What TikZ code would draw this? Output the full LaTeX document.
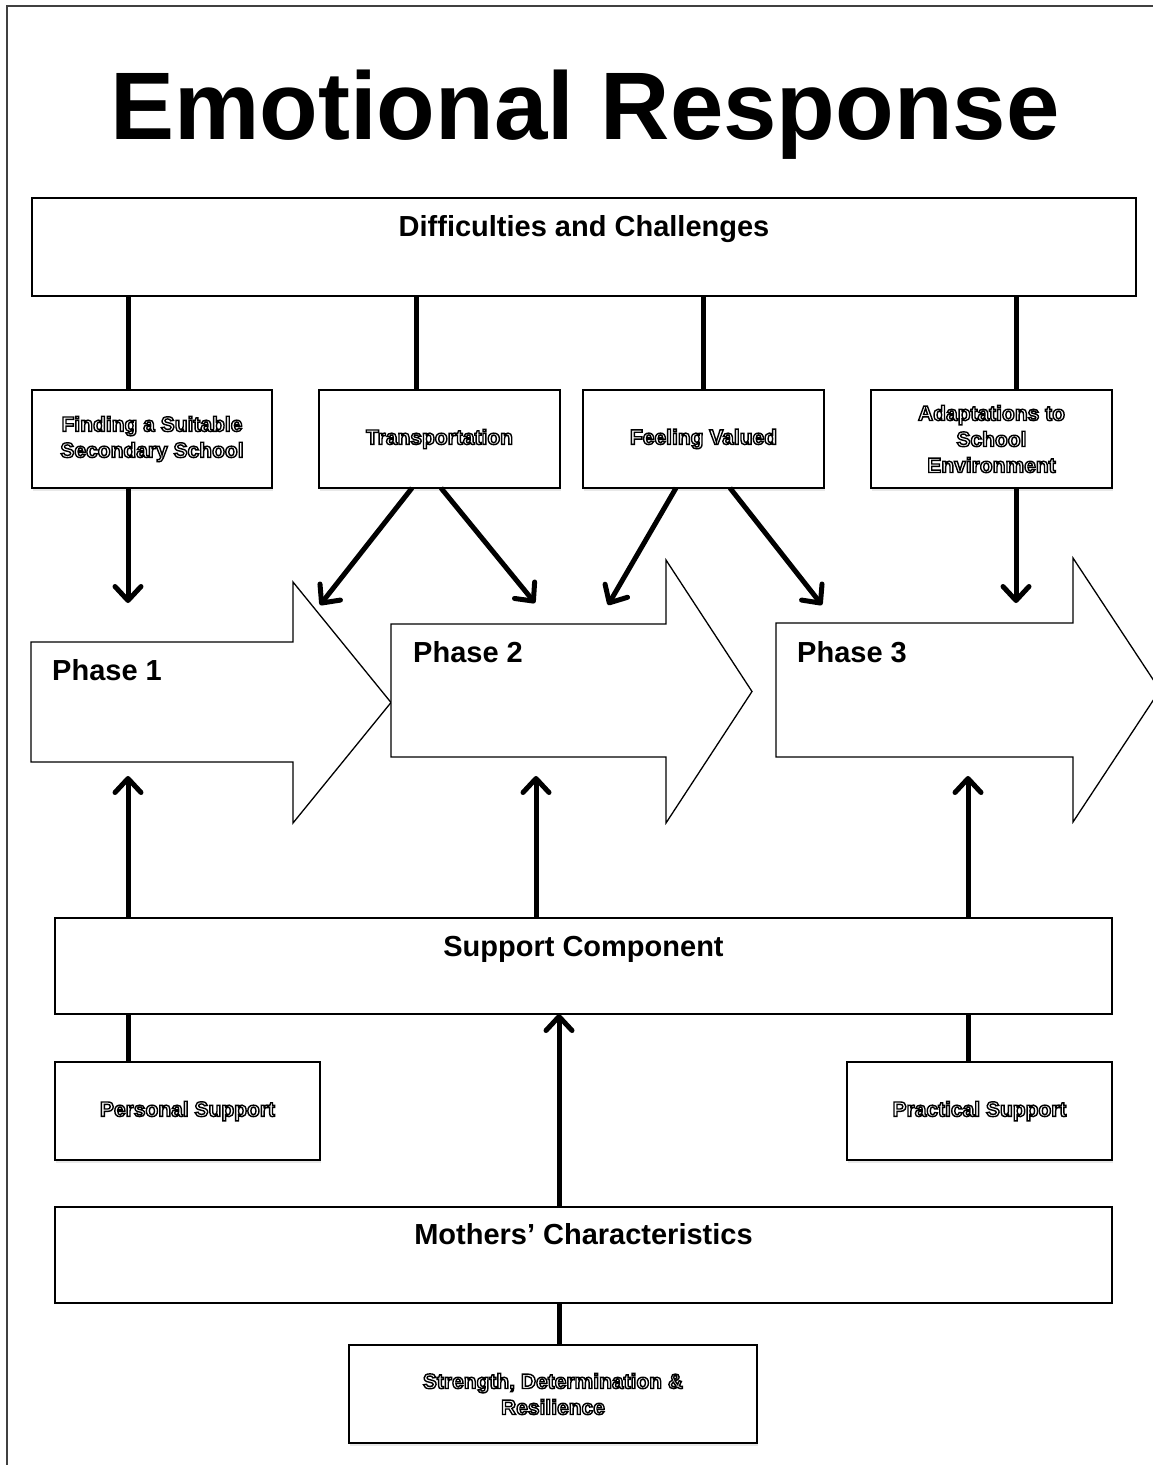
\documentclass[tikz,border=0pt]{standalone}
\usepackage{fontspec}
\setmainfont{Liberation Sans}
\usetikzlibrary{arrows.meta,shadows}

% outlined (hollow) lettering for the small boxes
\newcommand{\hollow}[1]{\special{pdf:literal direct 1 Tr 1.4 w}#1\special{pdf:literal direct 0 Tr}}

\tikzset{
  frame/.style={draw=black!75, line width=1.6pt},
  bar/.style={draw, line width=1.5pt, fill=white, inner sep=0pt, outer sep=0pt},
  sbox/.style={draw, line width=1.5pt, fill=white, inner sep=0pt, outer sep=0pt,
    minimum height=98pt, align=center, font=\fontsize{21}{26}\selectfont\bfseries,
    drop shadow={opacity=0.18, shadow xshift=1pt, shadow yshift=-3pt}},
  head/.style={inner sep=0pt, font=\fontsize{29}{34}\selectfont\bfseries},
  phase/.style={draw, line width=1.3pt, fill=white, line join=miter},
  link/.style={line width=5pt},
  flow/.style={link, -{Straight Barb[length=14pt, width=26pt, round]}}
}

\begin{document}
\begin{tikzpicture}[x=1pt,y=-1pt]
  \useasboundingbox (0,0) rectangle (1152,1465);
  \draw[frame] (7,6) rectangle (1185,1495);
  \node[inner sep=0pt, anchor=base, font=\fontsize{96}{110}\selectfont\bfseries] (title) at (585,139) {Emotional Response};

  % difficulties and challenges
  \node[bar, minimum width=1104pt, minimum height=98pt] (dc) at (584,247) {};
  \node[head, anchor=base] (dclab) at (584,236) {Difficulties and Challenges};
  \node[sbox, minimum width=240pt] (f1) at (152,439) {\hollow{Finding a Suitable\\Secondary School}};
  \node[sbox, minimum width=241pt] (f2) at (439.5,439) {\hollow{Transportation}};
  \node[sbox, minimum width=241pt] (f3) at (703.5,439) {\hollow{Feeling Valued}};
  \node[sbox, minimum width=241pt] (f4) at (991.5,439) {\hollow{Adaptations to\\School\\Environment}};
  \draw[link] ([xshift=-24pt]f1.north) -- ([xshift=-24pt]f1.north |- dc.south);
  \draw[link] ([xshift=-23.5pt]f2.north) -- ([xshift=-23.5pt]f2.north |- dc.south);
  \draw[link] (f3.north) -- (f3.north |- dc.south);
  \draw[link] ([xshift=24.5pt]f4.north) -- ([xshift=24.5pt]f4.north |- dc.south);

  % phases
  \foreach \l/\bt/\bb/\hx/\ht/\hb/\tx in {31/642/762/293/582/823/391,
      391/624/757/666/560/823/752, 776/623/757/1073/558/822/1160}
    \draw[phase] (\l,\bt) -- (\hx,\bt) -- (\hx,\ht) -- (\tx,{(\ht+\hb)/2})
      -- (\hx,\hb) -- (\hx,\bb) -- (\l,\bb) -- cycle;
  \node[head, anchor=base west] (ph1) at (52,680) {Phase 1};
  \node[head, anchor=base west] (ph2) at (413,662) {Phase 2};
  \node[head, anchor=base west] (ph3) at (797,662) {Phase 3};

  \coordinate (t1) at (128,603);
  \coordinate (t2a) at (320,605);
  \coordinate (t2b) at (535,603);
  \coordinate (t3a) at (608,605);
  \coordinate (t3b) at (822,605);
  \coordinate (t4) at (1016,603);
  \draw[flow] ([xshift=-24pt]f1.south) -- (t1);
  \draw[flow] ([xshift=-27.5pt]f2.south) -- (t2a);
  \draw[flow] ([xshift=1.5pt]f2.south) -- (t2b);
  \draw[flow] ([xshift=-27.5pt]f3.south) -- (t3a);
  \draw[flow] ([xshift=26.5pt]f3.south) -- (t3b);
  \draw[flow] ([xshift=24.5pt]f4.south) -- (t4);

  % support component
  \node[bar, minimum width=1057pt, minimum height=96pt] (sc) at (583.5,966) {};
  \node[head, anchor=base] (sclab) at (583.5,956) {Support Component};
  \coordinate (u1) at (128,776);
  \coordinate (u2) at (536,776);
  \coordinate (u3) at (968,776);
  \draw[flow] (sc.north -| u1) -- (u1);
  \draw[flow] (sc.north -| u2) -- (u2);
  \draw[flow] (sc.north -| u3) -- (u3);

  \node[sbox, minimum width=265pt] (ps) at (187.5,1111) {\hollow{Personal Support}};
  \node[sbox, minimum width=265pt] (pr) at (979.5,1111) {\hollow{Practical Support}};
  \draw[link] ([xshift=-59.5pt]ps.north) -- ([xshift=-59.5pt]ps.north |- sc.south);
  \draw[link] ([xshift=-11.5pt]pr.north) -- ([xshift=-11.5pt]pr.north |- sc.south);

  % mothers' characteristics
  \node[bar, minimum width=1057pt, minimum height=96pt] (mc) at (583.5,1255) {};
  \node[head, anchor=base] (mclab) at (583.5,1244) {Mothers’ Characteristics};
  \draw[flow] ([xshift=-24.5pt]mc.north) -- ([xshift=-24.5pt]mc.north |- sc.south);

  \node[sbox, minimum width=408pt] (sd) at (553,1394) {\hollow{Strength, Determination \&\\Resilience}};
  \draw[link] ([xshift=6pt]sd.north) -- ([xshift=6pt]sd.north |- mc.south);
\end{tikzpicture}
\end{document}
